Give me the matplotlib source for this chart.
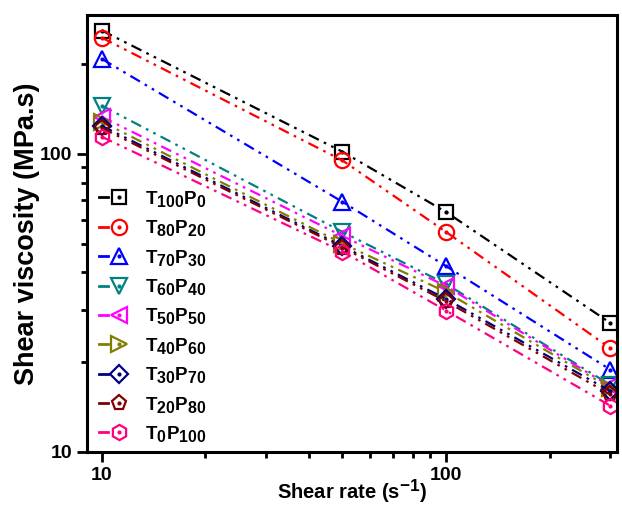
import matplotlib
matplotlib.use("Agg")
import matplotlib.pyplot as plt
import matplotlib._mathtext as _mt
from matplotlib.lines import Line2D
from matplotlib.legend_handler import HandlerBase
from matplotlib.ticker import LogLocator, NullFormatter, FixedLocator, FixedFormatter

_mt.SHRINK_FACTOR = 0.85

plt.rcParams['font.family'] = ['Liberation Sans', 'DejaVu Sans']
plt.rcParams['font.weight'] = 'bold'
plt.rcParams['mathtext.fontset'] = 'custom'
plt.rcParams['mathtext.rm'] = 'Liberation Sans:bold'
plt.rcParams['mathtext.it'] = 'Liberation Sans:bold'
plt.rcParams['mathtext.bf'] = 'Liberation Sans:bold'
plt.rcParams['mathtext.default'] = 'rm'

shear_rate = [10, 50, 100, 300]
labels = [r'T$_{100}$P$_{0}$', r'T$_{80}$P$_{20}$', r'T$_{70}$P$_{30}$', r'T$_{60}$P$_{40}$',
          r'T$_{50}$P$_{50}$', r'T$_{40}$P$_{60}$', r'T$_{30}$P$_{70}$', r'T$_{20}$P$_{80}$',
          r'T$_{0}$P$_{100}$']
T100P0 = [259, 101.6, 63.8, 27.1]
T80P20 = [245, 95, 54.7, 22.3]
T70P30 = [208, 69, 42, 18.9]
T60P40 = [145, 54.7, 36.6, 16.8]
T50P50 = [133, 53, 36, 16.6]
T40P60 = [128, 50, 34.4, 16.4]
T30P70 = [124, 49, 32.6, 16.0]
T20P80 = [122, 48.5, 32, 15.6]
T0P100 = [114, 47, 29.8, 14.3]
series = [T100P0, T80P20, T70P30, T60P40, T50P50, T40P60, T30P70, T20P80, T0P100]
colors = ['#000000', '#FF0000', '#0000FF', '#008080', '#FF00FF', '#808000', '#000080', '#800000', '#FF0080']
markers = ['s', 'o', '^', 'v', '<', '>', 'D', 'p', 'h']
msizes = [9.5, 11, 11, 11, 11, 11, 9, 11, 11]


class ShortLineHandler(HandlerBase):
    def create_artists(self, legend, orig, xdescent, ydescent, width, height, fontsize, trans):
        y = height / 2.0 - ydescent
        x0 = -xdescent
        c = orig.get_color()
        ln = Line2D([x0, x0 + 0.32 * width], [y, y], color=c, lw=2.0)
        mk = Line2D([x0 + 0.72 * width], [y], linestyle='none', marker=orig.get_marker(),
                    ms=orig.get_markersize(), mfc='none', mec=c, mew=orig.get_markeredgewidth())
        dt = Line2D([x0 + 0.72 * width], [y], linestyle='none', marker='o', ms=2, color=c)
        for a in (ln, mk, dt):
            a.set_transform(trans)
        return [ln, mk, dt]


fig = plt.figure(figsize=(6.22, 5.07), dpi=100)
ax = fig.add_axes([87 / 622, 1 - 452 / 507, 530 / 622, 437 / 507])

ls = (0, (5, 2.5, 1.2, 2.5, 1.2, 2.5))
handles = []
for ys, c, m, lab, ms in zip(series, colors, markers, labels, msizes):
    h, = ax.plot(shear_rate, ys, linestyle=ls, color=c, lw=1.6, marker=m, ms=ms,
                 mfc='none', mec=c, mew=1.6, label=lab)
    ax.plot(shear_rate, ys, linestyle='none', marker='o', ms=2, color=c)
    handles.append(h)

ax.set_xscale('log')
ax.set_yscale('log')
ax.set_xlim(9.05, 314)
ax.set_ylim(10, 292)

ax.xaxis.set_major_locator(FixedLocator([10, 100]))
ax.xaxis.set_major_formatter(FixedFormatter(['10', '100']))
ax.xaxis.set_minor_locator(LogLocator(base=10, subs=range(2, 10)))
ax.xaxis.set_minor_formatter(NullFormatter())
ax.yaxis.set_major_locator(FixedLocator([10, 100]))
ax.yaxis.set_major_formatter(FixedFormatter(['10', '100']))
ax.yaxis.set_minor_locator(LogLocator(base=10, subs=range(2, 10)))
ax.yaxis.set_minor_formatter(NullFormatter())

ax.tick_params(which='major', direction='out', length=7, width=2, labelsize=14, pad=3.5)
ax.tick_params(which='minor', direction='out', length=4, width=2)
for sp in ax.spines.values():
    sp.set_linewidth(2.2)

ax.set_xlabel(r'Shear rate (s$^{-1}$)', fontsize=14.5, fontweight='bold', labelpad=-4.5)
ax.set_ylabel('Shear viscosity (MPa.s)', fontsize=19.5, fontweight='bold')
ax.yaxis.set_label_coords(-0.088, 0.5)

leg = ax.legend(handles=handles, loc='upper left',
                bbox_to_anchor=(99 / 622, 1 - 189 / 507), bbox_transform=fig.transFigure,
                frameon=False, fontsize=13.5, handlelength=1.5, handletextpad=0.95,
                labelspacing=0.5, borderpad=0, borderaxespad=0,
                handler_map={Line2D: ShortLineHandler()})

fig.savefig('out.png', dpi=100)
